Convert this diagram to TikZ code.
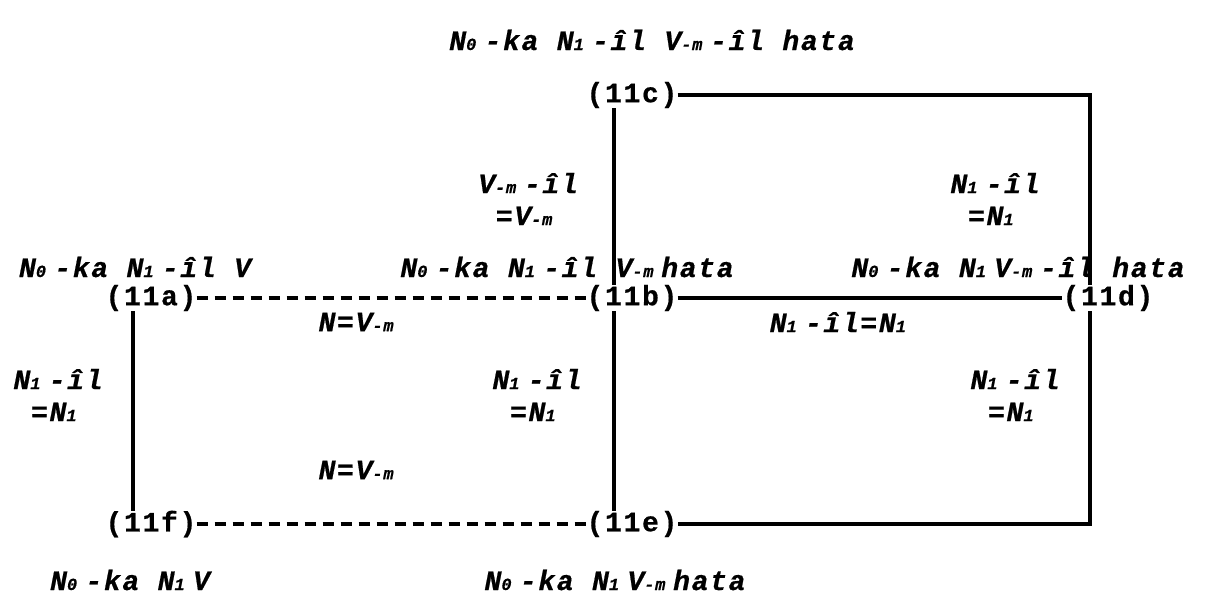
\documentclass[tikz,border=0pt]{standalone}
\usepackage{fontspec}
\newfontfamily\mono{Liberation Mono}[LetterSpace=6,FakeBold=0.6]
\newcommand\sbx[1]{\makebox[18.5pt][l]{\fontsize{17}{17}\selectfont #1}}
\newcommand\sbw[2]{\makebox[#1][l]{\fontsize{17}{17}\selectfont #2}}
\newcommand\Nz{N\sbx{0}}
\newcommand\No{N\sbx{1}}
\newcommand\Vm{V\sbw{11pt}{-}\sbw{18pt}{m}}
\tikzset{
  lab/.style={font=\mono\fontsize{28}{32}\selectfont\bfseries\itshape, inner sep=0pt, align=center},
  sent/.style={lab},
  stage/.style={font=\mono\fontsize{28}{30}\selectfont\bfseries, inner sep=0pt},
  conn/.style={line width=3.2pt},
  dconn/.style={line width=3.2pt, dash pattern=on 11pt off 7pt},
}
\begin{document}
\begin{tikzpicture}[x=1pt,y=-1pt]
\useasboundingbox (0,0) rectangle (1209,595);
% stage nodes
\node[stage] (c) at (632,95) {(11c)};
\node[stage] (a) at (151,298) {(11a)};
\node[stage] (b) at (632,298) {(11b)};
\node[stage] (d) at (1108,298) {(11d)};
\node[stage] (f) at (151,524) {(11f)};
\node[stage] (e) at (632,524) {(11e)};
% columns
\coordinate (ca) at (133,0);
\coordinate (cb) at (614,0);
\coordinate (cd) at (1090,0);
\coordinate (tr) at (c.east -| cd);
\coordinate (br) at (e.east -| cd);
% connectors
\draw[conn] (c.east) -- (tr) -- (d.north -| cd);
\draw[conn] (c.south -| cb) -- (b.north -| cb);
\draw[dconn] (a.east) -- (b.west);
\draw[conn] (b.east) -- (d.west);
\draw[conn] (a.south -| ca) -- (f.north -| ca);
\draw[conn] (b.south -| cb) -- (e.north -| cb);
\draw[conn] (d.south -| cd) -- (br) -- (e.east);
\draw[dconn] (f.east) -- (e.west);
% sentences
\node[sent] (tc) at (652,40) {\Nz-ka \No-îl \Vm-îl hata};
\node[sent] (ta) at (135,267) {\Nz-ka \No-îl V};
\node[sent] (tb) at (567,267) {\Nz-ka \No-îl \Vm hata};
\node[sent] (td) at (1018,267) {\Nz-ka \No\Vm-îl hata};
\node[sent] (tf) at (130,580) {\Nz-ka \No V};
\node[sent] (te) at (615,580) {\Nz-ka \No\Vm hata};
% edge labels
\node[lab] (lcb) at (528,199) {\Vm-îl\\=\Vm};
\node[lab] (lcd) at (995,199) {\No-îl\\=\No};
\node[lab] (lab1) at (360,322) {N=\Vm};
\node[lab] (lbd) at (842,322) {\No-îl=\No};
\node[lab] (laf) at (58,395) {\No-îl\\=\No};
\node[lab] (lbe) at (537,395) {\No-îl\\=\No};
\node[lab] (lde) at (1015,395) {\No-îl\\=\No};
\node[lab] (lfe) at (360,470) {N=\Vm};
\end{tikzpicture}
\end{document}
